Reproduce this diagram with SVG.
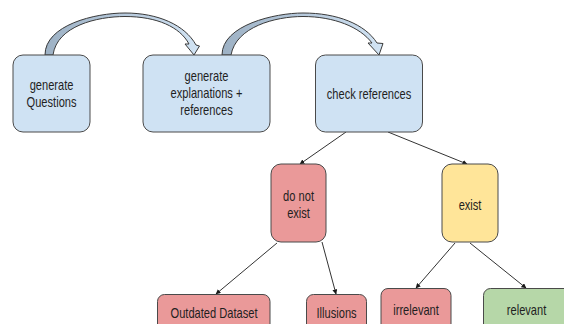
<svg xmlns="http://www.w3.org/2000/svg" width="564" height="324" viewBox="0 0 564 324">
  <defs>
    <style>
      .box { stroke: #4a4a4a; stroke-width: 1; }
      .blue { fill: #cfe2f3; }
      .red { fill: #ea9999; }
      .yellow { fill: #ffe599; }
      .green { fill: #b6d7a8; }
      .label { font-family: "Liberation Sans", Arial, sans-serif; font-size: 14.8px; fill: #1f1f1f; text-anchor: middle;
               transform: scaleX(0.75); transform-box: fill-box; transform-origin: center; }
      .link { stroke: #333333; stroke-width: 1; fill: none; marker-end: url(#tip); }
      .bend { stroke: #3a3a3a; stroke-width: 1; stroke-linejoin: round; }
    </style>
    <marker id="tip" viewBox="0 0 10 10" refX="9" refY="5" markerWidth="5" markerHeight="5" markerUnits="userSpaceOnUse" orient="auto">
      <path d="M0,0 L10,5 L0,10 Z" fill="#1a1a1a"/>
    </marker>
    <linearGradient id="bendFill" x1="0" y1="0" x2="1" y2="0">
      <stop offset="0" stop-color="#9db1c4"/>
      <stop offset="0.55" stop-color="#b8cbde"/>
      <stop offset="1" stop-color="#d2e4f4"/>
    </linearGradient>
  </defs>

  <rect width="564" height="324" fill="#ffffff"/>

  <!-- connectors -->
  <g id="connectors">
    <!-- curved block arrows along the top row -->
    <path class="bend" fill="url(#bendFill)" d="M45,55 C45,25 95,13 125,13 C158,13 185,25 196,45 L199.5,46 L194,55 L185,44 L189,44 C180,27 157,16.5 125,16.5 C97,16.5 57,26 53,55 Z"/>
    <path class="bend" fill="url(#bendFill)" d="M222,55 C222,25 275,13 303,13 C337,13 365,24 377,43 L383,43.5 L379,55 L368,43 L372,43 C360,27 334,16.5 303,16.5 C275,16.5 236,27 231,55 Z"/>
    <!-- tree links -->
    <line class="link" x1="346" y1="132" x2="300" y2="164"/>
    <line class="link" x1="388" y1="132" x2="467" y2="164"/>
    <line class="link" x1="277" y1="243" x2="216" y2="294"/>
    <line class="link" x1="322" y1="242" x2="336" y2="294"/>
    <line class="link" x1="455" y1="243" x2="416" y2="288"/>
    <line class="link" x1="470" y1="243" x2="526" y2="288"/>
  </g>

  <g id="generate-questions">
    <rect class="box blue" x="13" y="55" width="77" height="77" rx="10" ry="10"/>
    <text class="label"><tspan x="51.5" y="90.5">generate</tspan><tspan x="51.5" y="107">Questions</tspan></text>
  </g>

  <g id="generate-explanations">
    <rect class="box blue" x="143" y="55" width="127" height="77" rx="10" ry="10"/>
    <text class="label"><tspan x="206.5" y="81.5">generate</tspan><tspan x="206.5" y="98.5">explanations +</tspan><tspan x="206.5" y="115.5">references</tspan></text>
  </g>

  <g id="check-references">
    <rect class="box blue" x="315.5" y="55" width="107" height="77" rx="10" ry="10"/>
    <text class="label" x="369" y="99.5">check references</text>
  </g>

  <g id="do-not-exist">
    <rect class="box red" x="271" y="164" width="55" height="78" rx="10" ry="10"/>
    <text class="label"><tspan x="298.5" y="201.5">do not</tspan><tspan x="298.5" y="218.5">exist</tspan></text>
  </g>

  <g id="exist">
    <rect class="box yellow" x="442" y="164" width="56" height="78" rx="10" ry="10"/>
    <text class="label" x="470" y="210">exist</text>
  </g>

  <g id="outdated-dataset">
    <rect class="box red" x="157.5" y="294.5" width="112.5" height="60" rx="7" ry="7"/>
    <text class="label" x="214" y="318.5">Outdated Dataset</text>
  </g>

  <g id="illusions">
    <rect class="box red" x="306.5" y="294.5" width="60" height="60" rx="7" ry="7"/>
    <text class="label" x="336.5" y="318.5">Illusions</text>
  </g>

  <g id="irrelevant">
    <rect class="box red" x="381" y="288.5" width="70" height="60" rx="7" ry="7"/>
    <text class="label" x="416" y="315.5">irrelevant</text>
  </g>

  <g id="relevant">
    <rect class="box green" x="483.5" y="288.5" width="90" height="60" rx="7" ry="7"/>
    <text class="label" x="526.5" y="315.5">relevant</text>
  </g>
</svg>
